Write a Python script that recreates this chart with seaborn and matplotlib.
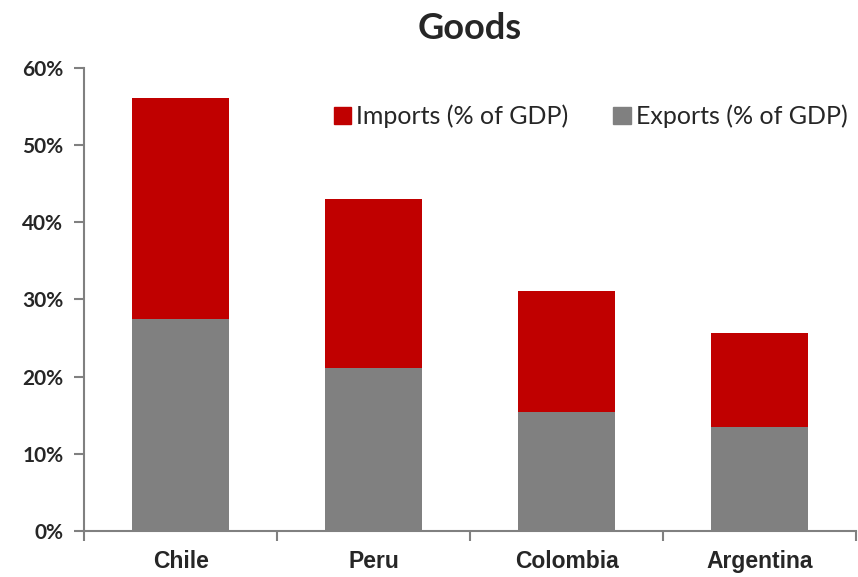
import numpy as np
import pandas as pd
import matplotlib
matplotlib.use("Agg")
import matplotlib.pyplot as plt
import seaborn as sns
from matplotlib.patches import Patch
from matplotlib.ticker import FuncFormatter

sns.set_style("white")

countries = ["Chile", "Peru", "Colombia", "Argentina"]
exports = [27.5, 21.1, 15.4, 13.5]
imports = [28.6, 21.9, 15.7, 12.2]

df = pd.DataFrame({"country": countries, "exports": exports, "imports": imports})
df["total"] = df["exports"] + df["imports"]

red = "#C00000"
grey = "#808080"

fig = plt.figure(figsize=(8.58, 5.77), dpi=100)
ax = fig.add_axes([0.098, 0.080, 0.900, 0.802])

sns.barplot(data=df, x="country", y="total", color=red, width=0.5, saturation=1,
            linewidth=0, ax=ax)
sns.barplot(data=df, x="country", y="exports", color=grey, width=0.5, saturation=1,
            linewidth=0, ax=ax)

ax.set_xlim(-0.5, 3.5)
ax.set_ylim(0, 60)
ax.set_yticks(np.arange(0, 61, 10))
ax.yaxis.set_major_formatter(FuncFormatter(lambda v, p: f"{v:.0f}%"))
ax.set_xticks(np.arange(-0.5, 4, 1.0))
ax.set_xticklabels([])
ax.set_xticks(np.arange(0, 4), minor=True)
ax.set_xticklabels(countries, minor=True, fontsize=16.5, fontweight="bold",
                   family="Liberation Sans")
ax.tick_params(axis="x", which="minor", bottom=False, length=0, pad=14)
ax.tick_params(axis="x", which="major", bottom=True, length=7, color=grey, width=1.5,
               direction="out")
ax.tick_params(axis="y", left=True, length=7, color=grey, width=1.5, direction="out",
               pad=8)
for lab in ax.get_yticklabels():
    lab.set_fontsize(15)
    lab.set_fontweight("bold")
    lab.set_family("Lato")
ax.set_xlabel("")
ax.set_ylabel("")
sns.despine(ax=ax, top=True, right=True)
ax.spines["left"].set_color(grey)
ax.spines["bottom"].set_color(grey)
ax.spines["left"].set_linewidth(1.5)
ax.spines["bottom"].set_linewidth(1.5)

ax.set_title("Goods", fontsize=26, fontweight="bold", family="Lato", pad=21)

handles = [Patch(color=red, label="Imports (% of GDP)"),
           Patch(color=grey, label="Exports (% of GDP)")]
ax.legend(handles=handles, ncol=2, frameon=False, loc="upper right",
          bbox_to_anchor=(1.018, 0.97), prop={"family": "Lato", "size": 18},
          handlelength=0.7, handleheight=0.7, handletextpad=0.2, columnspacing=1.8)

fig.savefig("out.png", dpi=100)
